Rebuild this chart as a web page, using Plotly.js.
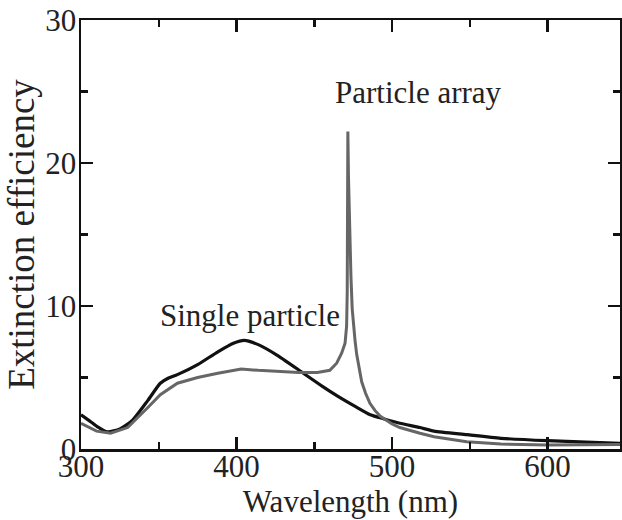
<!DOCTYPE html>
<html>
<head>
<meta charset="utf-8">
<script src="https://cdn.plot.ly/plotly-3.0.1.min.js"></script>
<style>html,body{margin:0;padding:0;background:#fff}#chart{width:622px;height:520px}</style>
</head>
<body>
<div id="chart"></div>
<script>
// Single particle (black)
const singleX = [300, 305, 310, 317, 325, 333, 343, 351, 356, 362, 375, 388, 398, 405, 414, 427, 443, 455, 465, 476, 486, 495, 505, 518, 527, 548, 570, 600, 625, 647];
const singleY = [2.4, 2.0, 1.6, 1.2, 1.4, 2.0, 3.4, 4.6, 4.95, 5.2, 5.9, 6.8, 7.4, 7.6, 7.3, 6.5, 5.3, 4.4, 3.7, 3.0, 2.4, 2.1, 1.8, 1.5, 1.25, 1.0, 0.75, 0.58, 0.48, 0.4];

// Particle array (gray)
const arrayX = [300, 305, 310, 319, 330, 343, 351, 362, 375, 388, 403, 414, 427, 440, 452, 460, 464.4, 467.6, 469.8, 470.8, 471.2, 471.4, 471.6, 472.0, 472.8, 473.6, 474.4, 475.2, 476.2, 477.3, 478.8, 480.5, 483, 485.8, 489, 492.3, 500, 505, 518, 527, 548, 570, 600, 625, 647];
const arrayY = [1.8, 1.5, 1.25, 1.1, 1.5, 2.9, 3.8, 4.6, 5.0, 5.3, 5.6, 5.5, 5.4, 5.35, 5.35, 5.5, 6.0, 6.7, 7.4, 8.6, 11, 15, 22.2, 19, 15, 12, 9.8, 8.6, 7.6, 6.6, 5.6, 4.7, 3.9, 3.2, 2.7, 2.3, 1.75, 1.5, 1.1, 0.86, 0.5, 0.35, 0.28, 0.3, 0.32];

const xTicks = [300, 400, 500, 600];
const yTicks = [0, 10, 20, 30];
const labels = ["Single particle", "Particle array"];

const serif = "'Liberation Serif', 'Times New Roman', serif";

const traces = [
  {x: singleX, y: singleY, type: "scatter", mode: "lines", name: labels[0],
   line: {color: "#111111", width: 3.2, shape: "spline", smoothing: 0.6}},
  {x: arrayX, y: arrayY, type: "scatter", mode: "lines", name: labels[1],
   line: {color: "#666666", width: 3, shape: "linear"}}
];

const axisCommon = {
  showgrid: false, zeroline: false, showline: true, linecolor: "#111", linewidth: 2.5,
  mirror: "ticks", ticks: "inside", ticklen: 12, tickwidth: 2.5, tickcolor: "#111",
  tickfont: {family: serif, size: 31, color: "#222"}, automargin: false
};

const layout = {
  width: 622, height: 520,
  margin: {l: 81, r: 2, t: 20, b: 71},
  paper_bgcolor: "#fff", plot_bgcolor: "#fff",
  showlegend: false,
  xaxis: Object.assign({}, axisCommon, {
    range: [300, 646.6], tickvals: xTicks, ticktext: xTicks.map(String),
    minor: {tickvals: [350, 450, 550, 650], ticks: "inside", ticklen: 7, tickwidth: 2.5, tickcolor: "#111"},
    ticklabelstandoff: -12,
    title: {text: "Wavelength (nm)", font: {family: serif, size: 31, color: "#222"}, standoff: 0}
  }),
  yaxis: Object.assign({}, axisCommon, {
    range: [0, 30], tickvals: yTicks, ticktext: yTicks.map(String),
    minor: {tickvals: [5, 15, 25], ticks: "inside", ticklen: 7, tickwidth: 2.5, tickcolor: "#111"},
    ticklabelstandoff: -4,
    title: {text: "Extinction efficiency", font: {family: serif, size: 37, color: "#222"}, standoff: 0}
  }),
  annotations: [
    {x: 408.7, y: 9.37, xref: "x", yref: "y", text: labels[0], showarrow: false,
     font: {family: serif, size: 31, color: "#222"}, xanchor: "center", yanchor: "middle"},
    {x: 517.2, y: 24.9, xref: "x", yref: "y", text: labels[1], showarrow: false,
     font: {family: serif, size: 31, color: "#222"}, xanchor: "center", yanchor: "middle"}
  ]
};

Plotly.newPlot("chart", traces, layout, {displayModeBar: false, staticPlot: true});
</script>
</body>
</html>
